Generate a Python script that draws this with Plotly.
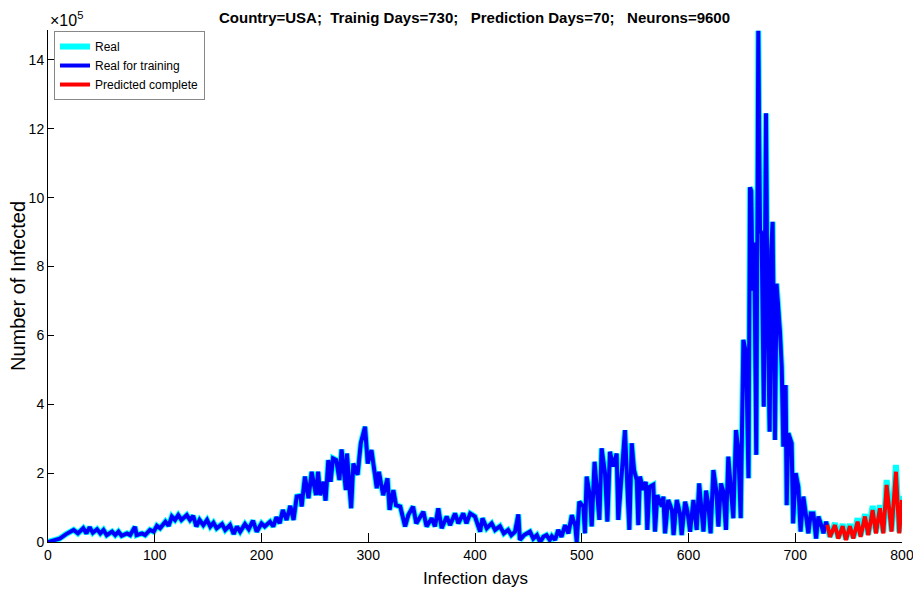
import plotly.graph_objects as go

# Daily infections (units of 1e5)
real_days = [0, 11, 17, 24, 28, 33, 36, 39, 42, 46, 49, 52, 55, 60, 63, 66, 69, 74, 77, 81.5, 83, 88, 91, 95.5, 99,
             102, 105, 110, 113, 116, 119, 122, 125, 130, 133, 136, 139, 142, 145.5, 149, 152, 155, 158, 163, 166,
             170.5, 174, 177, 180, 184.5, 188, 192, 195.5, 200, 203, 208, 211, 214, 217, 220, 223.5, 227, 230, 233,
             236.5, 237.6, 240.7, 244, 247, 251, 253, 255, 258, 260, 262.6, 264.8, 267, 270, 273, 275, 279, 280, 284,
             286, 290, 293, 297, 299.5, 303, 306, 308, 310, 314, 318, 320, 323.5, 326, 330, 334.5, 337.5, 342, 345,
             351.6, 354.7, 359.4, 362.5, 365.6, 368.8, 373.5, 376.6, 381.3, 384.4, 389, 392, 395.5, 400, 404.8, 407,
             411, 415.6, 418.8, 423.4, 427, 431, 434, 437.5, 440.6, 442, 446, 451.5, 454.6, 458, 461, 464, 467, 470,
             472, 475, 478, 481, 484.4, 487.5, 490.7, 494, 495.3, 497.7, 501.5, 503, 504.6, 507.7, 509.3, 512, 514.5,
             516.5, 518.6, 521.8, 524, 526.4, 529.6, 532.7, 534.2, 537.5, 540.5, 542.7, 544.6, 546.8, 549, 551.5, 553,
             554.5, 557.7, 560, 561.4, 563.3, 567, 568.6, 570.8, 575, 576.5, 578, 581, 584.5, 586, 589, 592, 593.6,
             596.8, 599, 601.5, 604.6, 606, 607.7, 610, 612.3, 614, 616.4, 618.5, 620.7, 623.3, 626, 628, 630.4,
             632.7, 635.1, 637.3, 639.5, 642, 644.5, 646.7, 648.9, 651.4, 653.9, 656.2, 657.6, 658.8, 660, 661.5,
             663.5, 665.4, 667, 668.5, 670.5, 672.6, 674, 676, 677.5, 678.8, 681, 682.5, 685.7, 687.3, 688.8, 691,
             692, 693.5, 696.6, 698, 700.4, 702.9, 705, 707.6, 709.8, 712.3, 714.5, 717, 719.5, 721.7, 724.8, 726.4,
             728.9, 730, 732.5, 737.2, 740.3, 744.4, 747.5, 751.2, 754.4, 758.4, 761.2, 765.3, 768.4, 772.5, 775.6,
             779.3, 782.5, 785.6, 787, 790.2, 794.3, 797.4, 800]
real_cases = [0, 0.1, 0.23, 0.35, 0.25, 0.4, 0.25, 0.43, 0.27, 0.37, 0.25, 0.35, 0.2, 0.3, 0.2, 0.3, 0.18, 0.25, 0.2,
              0.44, 0.2, 0.25, 0.2, 0.35, 0.3, 0.47, 0.4, 0.59, 0.47, 0.74, 0.64, 0.78, 0.64, 0.78, 0.64, 0.76, 0.45,
              0.64, 0.49, 0.64, 0.45, 0.56, 0.4, 0.52, 0.35, 0.49, 0.23, 0.45, 0.3, 0.52, 0.37, 0.62, 0.3, 0.54, 0.45,
              0.59, 0.45, 0.72, 0.54, 0.93, 0.64, 1.05, 0.64, 1.32, 1.34, 1.03, 1.9, 1.27, 2.04, 1.36, 2.04, 1.36,
              1.75, 1.2, 2.38, 1.75, 2.43, 2.38, 1.8, 2.69, 1.51, 2.57, 0.98, 2.28, 1.95, 2.87, 3.35, 2.28, 2.67,
              2.04, 1.56, 2.04, 1.36, 1.85, 0.93, 1.51, 1.07, 1.03, 0.45, 0.78, 1.03, 0.54, 0.88, 0.45, 0.69, 0.45,
              0.98, 0.4, 0.74, 0.49, 0.83, 0.54, 0.83, 0.54, 0.83, 0.74, 0.3, 0.69, 0.4, 0.54, 0.35, 0.46, 0.25,
              0.35, 0.2, 0.3, 0.8, 0.06, 0.2, 0.3, 0.1, 0.2, 0.0, 0.15, 0.2, 0.06, 0.17, 0.06, 0.35, 0.15, 0.49,
              0.25, 0.78, 0.45, 0.0, 1.17, 1.03, 0.25, 1.9, 1.32, 0.45, 2.33, 1.51, 0.64, 2.72, 2.0, 0.59, 2.62,
              2.19, 2.57, 0.64, 2.0, 3.25, 1.6, 0.35, 2.87, 2.09, 1.8, 0.49, 1.9, 1.51, 1.75, 0.35, 1.6, 1.66, 0.3,
              1.36, 1.03, 1.32, 0.25, 1.22, 0.93, 0.2, 1.22, 0.83, 0.2, 1.17, 0.9, 0.3, 1.22, 0.8, 0.35, 1.7, 0.83,
              0.3, 1.49, 1.12, 0.25, 2.09, 1.5, 0.45, 1.7, 1.46, 0.35, 2.48, 1.6, 0.69, 3.25, 2.67, 0.69, 5.87, 5.48,
              1.85, 10.3, 10.2, 7.3, 8.7, 2.53, 14.85, 9.06, 8.96, 3.93, 12.45, 6.93, 3.2, 8.48, 9.3, 2.96, 7.5, 6.1,
              5.1, 2.77, 4.56, 1.07, 3.16, 2.87, 0.54, 2.0, 1.6, 0.3, 1.32, 0.83, 0.25, 0.83, 0.83, 0.1, 0.74, 0.45,
              0.25, 0.59, 0.45, 0.15, 0.55, 0.12, 0.52, 0.08, 0.52, 0.12, 0.69, 0.18, 0.81, 0.22, 1.05, 0.28, 1.07,
              0.28, 1.8, 1.35, 0.32, 2.24, 0.28, 1.34]

training_days_count = 730

pred_days = [730, 732.5, 737.2, 740.3, 744.4, 747.5, 751.2, 754.4, 758.4, 761.2, 765.3, 768.4, 772.5, 775.6,
             779.3, 782.5, 785.6, 787, 790.2, 794.3, 797.4, 800]
pred_cases = [0.5, 0.15, 0.49, 0.1, 0.46, 0.06, 0.46, 0.1, 0.59, 0.15, 0.74, 0.2, 0.93, 0.25, 0.98, 0.25, 1.66,
              1.22, 0.3, 2.04, 0.25, 1.22]

y_ticks = [0, 2, 4, 6, 8, 10, 12, 14]
x_ticks = [0, 100, 200, 300, 400, 500, 600, 700, 800]

train_idx = [i for i, d in enumerate(real_days) if d <= training_days_count]
train_days = [real_days[i] for i in train_idx]
train_cases = [real_cases[i] for i in train_idx]

FONT = "Liberation Sans, Arial, Helvetica, sans-serif"

fig = go.Figure()
fig.add_trace(go.Scatter(x=real_days, y=real_cases, mode="lines", name="Real",
                         line=dict(color="#00FFFF", width=6)))
fig.add_trace(go.Scatter(x=train_days, y=train_cases, mode="lines", name="Real for training",
                         line=dict(color="#0000FF", width=4)))
fig.add_trace(go.Scatter(x=pred_days, y=pred_cases, mode="lines", name="Predicted complete",
                         line=dict(color="#FF0000", width=4)))

nb = "\u00a0"
title = ("Country=USA;" + nb * 2 + "Trainig Days=730;" + nb * 3 + "Prediction Days=70;" + nb * 3 +
         "Neurons=9600")

# page body has an 8px default margin, so the figure is 913x584 placed at (8, 8)
fig.update_layout(
    width=913, height=584,
    paper_bgcolor="white", plot_bgcolor="white",
    margin=dict(l=40, r=19, t=22, b=50, autoexpand=False),
    font=dict(family=FONT, color="black", size=14),
    title=dict(text="<b>" + title + "</b>", x=0.511, xanchor="center", y=0.984, yanchor="middle",
               font=dict(size=15, family=FONT)),
    showlegend=True,
    legend=dict(x=0.007, y=0.998, xanchor="left", yanchor="top", bgcolor="white",
                bordercolor="#888888", borderwidth=1, font=dict(size=12, family=FONT),
                itemwidth=30, tracegroupgap=0),
    xaxis=dict(range=[0, 800], tickvals=x_ticks, ticks="inside", ticklen=9, tickcolor="black",
               showline=True, linecolor="black", linewidth=1, showgrid=False, zeroline=False,
               mirror=False, tickfont=dict(size=14), automargin=False),
    yaxis=dict(range=[0, 14.87], tickvals=y_ticks, ticks="inside", ticklen=6, tickcolor="black",
               showline=True, linecolor="black", linewidth=1, showgrid=False, zeroline=False,
               mirror=False, tickfont=dict(size=14), automargin=False),
    annotations=[
        dict(text="×10<sup>5</sup>", xref="paper", yref="paper", x=0, y=1, xanchor="left",
             yanchor="bottom", showarrow=False, font=dict(size=16, family=FONT), yshift=-1),
        dict(text="Infection days", xref="paper", yref="paper", x=0.5, y=0, xanchor="center",
             yanchor="middle", yshift=-36, showarrow=False, font=dict(size=17, family=FONT)),
        dict(text="Number of Infected", xref="paper", yref="paper", x=0, y=0.5, xanchor="center",
             yanchor="middle", xshift=-30, textangle=-90, showarrow=False, font=dict(size=20, family=FONT)),
    ],
)

fig.write_html("out.html")
